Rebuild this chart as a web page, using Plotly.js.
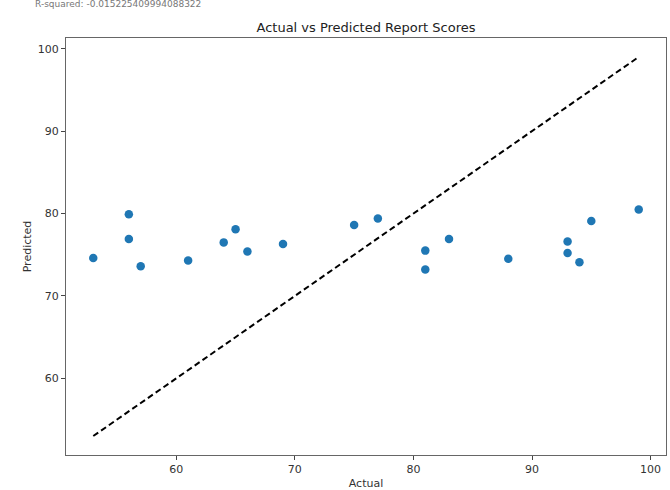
<!DOCTYPE html>
<html>
<head>
<meta charset="utf-8">
<script src="https://cdn.plot.ly/plotly-3.0.1.min.js"></script>
<style>html,body{margin:0;padding:0;background:#fff;} #chart{width:670px;height:490px;}</style>
</head>
<body>
<div id="chart"></div>
<script>
const actual = [53, 56, 56, 57, 61, 64, 65, 66, 69, 75, 77, 81, 81, 83, 88, 93, 93, 94, 95, 99];
const predicted = [74.6, 79.9, 76.9, 73.6, 74.3, 76.5, 78.1, 75.4, 76.3, 78.6, 79.4, 75.5, 73.2, 76.9, 74.5, 76.6, 75.2, 74.1, 79.1, 80.5];
const titleText = "Actual vs Predicted Report Scores";
const xLabel = "Actual";
const yLabel = "Predicted";
const r2Text = "R-squared: -0.015225409994088322";
const xTicks = [60, 70, 80, 90, 100];
const yTicks = [60, 70, 80, 90, 100];

const lo = Math.min(...actual), hi = Math.max(...actual);
const pad = (hi - lo) * 0.05;

const traces = [
  {x: actual, y: predicted, type: 'scatter', mode: 'markers',
   marker: {color: '#1f77b4', size: 8.5}, hoverinfo: 'none'},
  {x: [lo, hi], y: [lo, hi], type: 'scatter', mode: 'lines',
   line: {color: '#000000', width: 2, dash: '6px,3.5px'}, hoverinfo: 'none'}
];

const axisCommon = {
  showgrid: false, zeroline: false, showline: true, mirror: true,
  linecolor: '#666', linewidth: 1,
  ticks: 'outside', ticklen: 4, tickcolor: '#444', tickwidth: 1,
  tickfont: {family: 'DejaVu Sans', size: 11, color: '#333'}
};

const layout = {
  width: 670, height: 490,
  margin: {l: 66, r: 4, t: 38, b: 35},
  paper_bgcolor: '#fff', plot_bgcolor: '#fff',
  showlegend: false,
  title: {text: titleText, font: {family: 'DejaVu Sans', size: 13, color: '#222'},
          x: 0.5, xanchor: 'center', xref: 'paper', y: 1, yref: 'paper', yanchor: 'bottom', pad: {b: 6}},
  xaxis: Object.assign({}, axisCommon, {
    range: [lo - pad, hi + pad], tickvals: xTicks, ticktext: xTicks.map(String),
    title: {text: xLabel, font: {family: 'DejaVu Sans', size: 11, color: '#333'}, standoff: 4}
  }),
  yaxis: Object.assign({}, axisCommon, {
    range: [lo - pad, hi + pad], tickvals: yTicks, ticktext: yTicks.map(String),
    title: {text: yLabel, font: {family: 'DejaVu Sans', size: 11, color: '#333'}, standoff: 3}
  }),
  annotations: [{
    text: r2Text, xref: 'paper', yref: 'paper', x: 0, y: 1, xanchor: 'left', yanchor: 'bottom',
    xshift: -33, yshift: 27, showarrow: false,
    font: {family: 'DejaVu Sans', size: 9, color: '#777'}
  }]
};

Plotly.newPlot('chart', traces, layout, {displayModeBar: false, staticPlot: true});
</script>
</body>
</html>
